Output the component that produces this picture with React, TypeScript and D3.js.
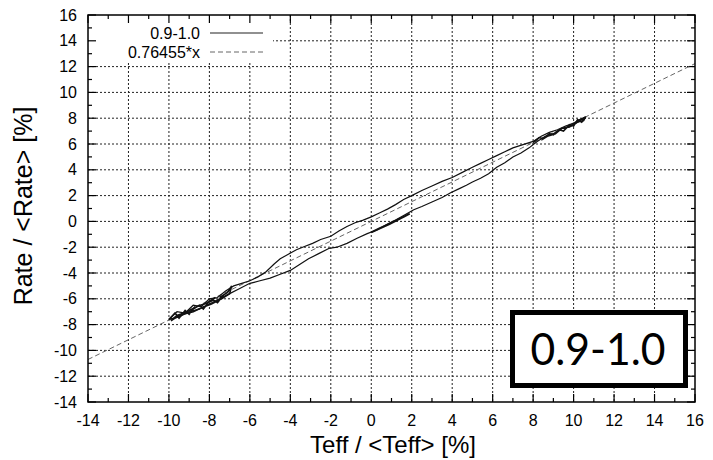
import React from "react";
import { scaleLinear, line } from "d3";

// tick values on both axes
const xTicks = [-14, -12, -10, -8, -6, -4, -2, 0, 2, 4, 6, 8, 10, 12, 14, 16];
const yTicks = [-14, -12, -10, -8, -6, -4, -2, 0, 2, 4, 6, 8, 10, 12, 14, 16];
const minorTicks = [-13, -11, -9, -7, -5, -3, -1, 1, 3, 5, 7, 9, 11, 13, 15];

// fit line
const fitSlope = 0.76455;
const fitX = [-14, 16];

const upperBranch: [number, number][] = [
  [-10.0, -7.6], [-9.6, -7.0], [-9.2, -7.1], [-8.8, -6.5], [-8.4, -6.6], [-8.0, -6.0],
  [-7.6, -5.9], [-7.2, -5.4], [-6.8, -5.0], [-6.4, -4.8], [-6.0, -4.6], [-5.6, -4.3],
  [-5.2, -3.9], [-4.8, -3.3], [-4.5, -2.9], [-4.1, -2.55], [-3.7, -2.2], [-3.3, -1.95],
  [-2.9, -1.7], [-2.5, -1.4], [-2.0, -1.15], [-1.6, -0.75], [-1.2, -0.4], [-0.8, -0.1],
  [-0.4, 0.1], [0.0, 0.35], [0.4, 0.65], [0.8, 0.95], [1.2, 1.3], [1.6, 1.7], [2.0, 2.0],
  [2.5, 2.4], [3.0, 2.75], [3.5, 3.1], [4.0, 3.4], [4.5, 3.8], [5.0, 4.2], [5.4, 4.5],
  [5.8, 4.8], [6.2, 5.1], [6.6, 5.4], [7.0, 5.7], [7.5, 5.95], [8.0, 6.2], [8.4, 6.6],
  [8.8, 6.9], [9.2, 7.1], [9.6, 7.4], [10.0, 7.6], [10.3, 7.9], [10.6, 8.1],
];
const lowerBranch: [number, number][] = [
  [10.6, 8.1], [10.5, 7.8], [10.2, 7.7], [9.8, 7.3], [9.4, 7.2], [9.0, 6.8], [8.6, 6.6],
  [8.2, 6.2], [7.8, 5.7], [7.4, 5.3], [7.0, 5.0], [6.6, 4.55], [6.2, 4.2], [5.8, 3.7],
  [5.4, 3.35], [5.0, 3.05], [4.7, 2.8], [4.3, 2.5], [3.9, 2.2], [3.5, 1.85], [3.0, 1.5],
  [2.5, 1.15], [2.1, 0.9], [1.6, 0.45], [1.2, 0.1], [0.8, -0.2], [0.3, -0.65], [-0.2, -0.95],
  [-0.7, -1.3], [-1.2, -1.7], [-1.7, -2.0], [-2.1, -2.1], [-2.6, -2.5], [-3.1, -2.9],
  [-3.6, -3.4], [-4.0, -3.8], [-4.5, -4.1], [-5.0, -4.4], [-5.5, -4.6], [-6.0, -4.8],
  [-6.5, -5.2], [-7.0, -5.6], [-7.5, -6.0], [-8.0, -6.4], [-8.5, -6.8], [-9.0, -7.0],
  [-9.5, -7.4], [-10.0, -7.6],
];
const leftScribble: [number, number][] = [
  [-10.0, -7.6], [-9.7, -7.1], [-9.5, -7.5], [-9.2, -6.9], [-9.0, -7.2], [-8.7, -6.6],
  [-8.9, -6.9], [-8.5, -6.5], [-8.3, -6.8], [-8.0, -6.2], [-8.2, -6.4], [-7.8, -6.1],
  [-7.6, -6.3], [-7.3, -5.7], [-7.5, -5.9], [-7.1, -5.5], [-6.9, -5.0], [-7.0, -5.6],
  [-7.4, -6.0], [-7.9, -6.4], [-8.4, -6.7], [-8.8, -7.0], [-9.3, -7.2], [-9.7, -7.5],
  [-9.9, -7.7], [-9.6, -7.3], [-9.1, -7.0], [-8.6, -6.6], [-8.1, -6.3], [-7.7, -5.9],
];
const middleScribble: [number, number][] = [
  [0.0, -0.85], [0.4, -0.55], [0.9, -0.2], [1.4, 0.2], [1.9, 0.6], [1.6, 0.35], [1.0, -0.1],
];
const rightScribble: [number, number][] = [
  [8.0, 6.1], [8.3, 6.5], [8.5, 6.4], [8.8, 6.8], [9.0, 6.7], [9.3, 7.1], [9.5, 7.0],
  [9.8, 7.5], [10.0, 7.4], [10.2, 7.9], [10.4, 7.7], [10.6, 8.1], [10.4, 7.9], [10.1, 7.6],
  [9.7, 7.3], [9.4, 7.2], [9.1, 6.8], [8.7, 6.6], [8.4, 6.3],
];

const App = () => {
  const width = 713;
  const height = 460;
  const left = 88;
  const right = 695;
  const top = 15;
  const bottom = 402;

  const x = scaleLinear().domain([-14, 16]).range([left, right]);
  const y = scaleLinear().domain([-14, 16]).range([bottom, top]);
  const path = line<[number, number]>()
    .x((d) => x(d[0]))
    .y((d) => y(d[1]));

  const font = "'Liberation Sans', Arial, sans-serif";
  const inner = xTicks.slice(1, -1);

  return (
    <svg
      width={width}
      height={height}
      style={{ position: "absolute", left: 0, top: 0, background: "#fff" }}
    >
      <defs>
        <clipPath id="plot">
          <rect x={left} y={top} width={right - left} height={bottom - top} />
        </clipPath>
      </defs>
      <rect width={width} height={height} fill="#fff" />

      {/* grid */}
      <g stroke="#222" strokeWidth={1} strokeDasharray="2,2">
        {inner.map((t) => (
          <line key={"gx" + t} x1={x(t)} x2={x(t)} y1={top} y2={bottom} />
        ))}
        {yTicks.slice(1, -1).map((t) => (
          <line key={"gy" + t} x1={left} x2={right} y1={y(t)} y2={y(t)} />
        ))}
      </g>

      {/* key background */}
      <rect x={left + 1} y={top + 1} width={184} height={46} fill="#fff" />

      {/* ticks, all four sides */}
      <g stroke="#000" strokeWidth={1.2}>
        {xTicks.map((t) => (
          <g key={"tx" + t}>
            <line x1={x(t)} x2={x(t)} y1={bottom} y2={bottom - 8} />
            <line x1={x(t)} x2={x(t)} y1={top} y2={top + 8} />
          </g>
        ))}
        {minorTicks.map((t) => (
          <g key={"mx" + t}>
            <line x1={x(t)} x2={x(t)} y1={bottom} y2={bottom - 4} />
            <line x1={x(t)} x2={x(t)} y1={top} y2={top + 4} />
            <line x1={left} x2={left + 4} y1={y(t)} y2={y(t)} />
            <line x1={right} x2={right - 4} y1={y(t)} y2={y(t)} />
          </g>
        ))}
        {yTicks.map((t) => (
          <g key={"ty" + t}>
            <line x1={left} x2={left + 8} y1={y(t)} y2={y(t)} />
            <line x1={right} x2={right - 8} y1={y(t)} y2={y(t)} />
          </g>
        ))}
      </g>

      {/* fit line and data */}
      <g clipPath="url(#plot)" fill="none">
        <path
          d={path(fitX.map((v) => [v, fitSlope * v] as [number, number])) || ""}
          stroke="#666"
          strokeWidth={1}
          strokeDasharray="5,3"
        />
        <path d={path(upperBranch) || ""} stroke="#111" strokeWidth={1.2} />
        <path d={path(lowerBranch) || ""} stroke="#111" strokeWidth={1.2} />
        <path d={path(leftScribble) || ""} stroke="#111" strokeWidth={1.6} />
        <path d={path(middleScribble) || ""} stroke="#111" strokeWidth={2} />
        <path d={path(rightScribble) || ""} stroke="#111" strokeWidth={1.6} />
      </g>

      {/* frame */}
      <rect
        x={left}
        y={top}
        width={right - left}
        height={bottom - top}
        fill="none"
        stroke="#000"
        strokeWidth={1.5}
      />

      {/* tick labels */}
      <g fontFamily={font} fontSize={16} fill="#000">
        {xTicks.map((t) => (
          <text key={"lx" + t} x={x(t)} y={426} textAnchor="middle">
            {t}
          </text>
        ))}
        {yTicks.map((t) => (
          <text key={"ly" + t} x={77} y={y(t)} dy="0.35em" textAnchor="end">
            {t}
          </text>
        ))}
      </g>

      {/* axis titles */}
      <text x={393} y={453} fontFamily={font} fontSize={24} textAnchor="middle">
        {"Teff / <Teff> [%]"}
      </text>
      <text
        transform="translate(32,206) rotate(-90)"
        fontFamily={font}
        fontSize={25}
        textAnchor="middle"
      >
        {"Rate / <Rate> [%]"}
      </text>

      {/* key */}
      <g fontFamily={font} fontSize={16}>
        <text x={200} y={33} dy="0.35em" textAnchor="end">0.9-1.0</text>
        <line x1={210} x2={263} y1={33} y2={33} stroke="#222" strokeWidth={1.2} />
        <text x={200} y={52} dy="0.35em" textAnchor="end">0.76455*x</text>
        <line
          x1={210}
          x2={263}
          y1={52}
          y2={52}
          stroke="#666"
          strokeWidth={1}
          strokeDasharray="5,3"
        />
      </g>

      {/* panel label */}
      <rect x={512.5} y={312.5} width={173} height={73} fill="#fff" stroke="#000" strokeWidth={5} />
      <text
        x={598}
        y={365}
        fontFamily="Lato, 'Open Sans', sans-serif"
        fontSize={44}
        textAnchor="middle"
        textLength={135}
        lengthAdjust="spacingAndGlyphs"
      >
        0.9-1.0
      </text>
    </svg>
  );
};

export default App;
